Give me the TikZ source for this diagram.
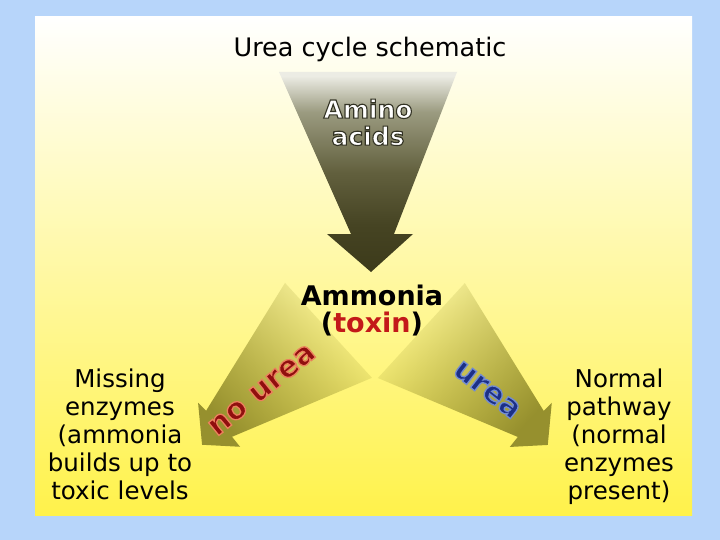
\documentclass[tikz,border=0pt]{standalone}
\usepackage{fontspec}
\setmainfont{DejaVu Sans}
\usetikzlibrary{fadings}
\definecolor{bgblue}{RGB}{183,213,250}
\definecolor{panelbot}{RGB}{255,242,75}
\definecolor{oliveA}{RGB}{150,144,46}
\definecolor{darkol}{RGB}{60,58,26}
\definecolor{olA}{RGB}{70,68,35}
\definecolor{olB}{RGB}{98,96,62}
\definecolor{olC}{RGB}{155,155,128}
\definecolor{topol}{RGB}{236,236,228}
\definecolor{toxred}{RGB}{195,25,25}
\definecolor{noured}{RGB}{145,15,15}
\definecolor{ureablue}{RGB}{28,48,135}
\pgfdeclareverticalshading{topsh}{100bp}{color(0bp)=(darkol); color(25bp)=(darkol); color(37bp)=(olA); color(50bp)=(olB); color(65bp)=(olC); color(74bp)=(topol); color(100bp)=(topol)}
\tikzfading[name=armfade, left color=transparent!100, middle color=transparent!32, right color=transparent!0]
% text with a stroked outline (width #1, fill colour #2, outline rgb #3)
\newcommand\outl[4]{{\color{#2}\special{pdf:literal direct 2 Tr #1 w #3 RG}#4\special{pdf:literal direct 0 Tr 0.4 w}}}
\begin{document}
\begin{tikzpicture}[x=1pt,y=-1pt,
  txt/.style={inner sep=0pt, align=center, text=black},
  sidetxt/.style={txt, font=\fontsize{24.5}{28}\selectfont, anchor=north},
  sidearrow/.style={fill=oliveA, path fading=armfade},
  slanted/.style={txt, font=\bfseries\fontsize{30}{30}\selectfont}]
\useasboundingbox (0,0) rectangle (720,540);
\fill[bgblue] (0,0) rectangle (720,540);
\shade[top color=white, bottom color=panelbot] (35,17) rectangle (692,515);
% top arrow
\shade[shading=topsh]
  (279,72) -- (457,72) -- (394,234) -- (413,234) -- (371,272) -- (327,234) -- (351,234) -- cycle;
% left arrow
\path[sidearrow, fading angle=221]
  (285,283) -- (372,378) -- (232,437) -- (240,447) -- (202,445) -- (198,403) -- (206,411) -- cycle;
% right arrow
\path[sidearrow, fading angle=-41]
  (465,283) -- (378,378) -- (518,437) -- (510,447) -- (548,445) -- (552,403) -- (544,411) -- cycle;
% texts
\node[txt, font=\fontsize{25.5}{28}\selectfont, anchor=base] (title) at (370,57) {Urea cycle schematic};
\node[txt, font=\bfseries\fontsize{25}{27}\selectfont, anchor=north] (amino) at (368,99)
  {\outl{1.1}{white}{0.2 0.2 0.14}{Amino}\\\outl{1.1}{white}{0.2 0.2 0.14}{acids}};
\node[txt, font=\bfseries\fontsize{27}{27}\selectfont, anchor=base] (ammonia) at (372,305) {Ammonia};
\node[txt, font=\bfseries\fontsize{27}{27}\selectfont, anchor=base] (toxin) at (372,332) {(\textcolor{toxred}{toxin})};
\node[sidetxt] (missing) at (120,368.5) {Missing\\enzymes\\(ammonia\\builds up to\\toxic levels};
\node[sidetxt] (normal) at (619,368.5) {Normal\\pathway\\(normal\\enzymes\\present)};
\node[slanted, rotate=39] (nourea) at (262,390) {\outl{1.3}{noured}{0.92 0.5 0.36}{no urea}};
\node[slanted, rotate=-38] (urea) at (487,390) {\outl{1.3}{ureablue}{0.45 0.55 0.82}{urea}};
\end{tikzpicture}
\end{document}
